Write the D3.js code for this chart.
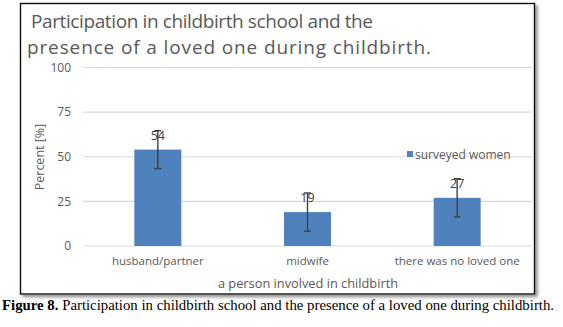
<!DOCTYPE html>
<html>
<head>
<meta charset="utf-8">
<script src="https://cdn.jsdelivr.net/npm/d3@7"></script>
<style>
  body { margin: 0; background: #fff; }
  svg { display: block; }
</style>
</head>
<body>
<svg id="chart" width="563" height="327"></svg>
<script>
// data
var categories = ['husband/partner', 'midwife', 'there was no loved one'];
var values = [54, 19, 27];
var errors = [10.6, 10.7, 10.7];
var yTicks = [0, 25, 50, 75, 100];
var seriesName = 'surveyed women';

var svg = d3.select('#chart');

var defs = svg.append('defs');
var f = defs.append('filter').attr('id', 'shadow')
  .attr('x', '-5%').attr('y', '-5%').attr('width', '115%').attr('height', '115%');
f.append('feDropShadow').attr('dx', 2.5).attr('dy', 2.5)
  .attr('stdDeviation', 1.6).attr('flood-color', '#777').attr('flood-opacity', 0.8);

// frame
svg.append('rect')
  .attr('x', 20.5).attr('y', 3.5).attr('width', 514).attr('height', 290.5)
  .attr('fill', '#fff').attr('stroke', '#111').attr('stroke-width', 1.4)
  .attr('filter', 'url(#shadow)');

var grey = '#595959';

// title (two lines, widths fitted to the original)
var title = svg.append('text')
  .attr('font-family', 'Open Sans').attr('font-size', 19).attr('fill', grey);
title.append('tspan').attr('x', 31).attr('y', 28)
  .attr('textLength', 342).attr('lengthAdjust', 'spacing')
  .text('Participation in childbirth school and the');
title.append('tspan').attr('x', 27).attr('y', 54)
  .attr('textLength', 404).attr('lengthAdjust', 'spacing')
  .text('presence of a loved one during childbirth.');

var x = d3.scaleBand()
  .domain(categories)
  .range([83, 532])
  .paddingInner(0.686)
  .paddingOuter(0.343);

var y = d3.scaleLinear()
  .domain([0, 100])
  .range([246, 67.5]);

// gridlines
svg.append('g')
  .selectAll('line')
  .data(yTicks)
  .enter()
  .append('line')
  .attr('x1', 83).attr('x2', 532)
  .attr('y1', function(d) { return y(d); })
  .attr('y2', function(d) { return y(d); })
  .attr('stroke', '#d9d9d9').attr('stroke-width', 1.2);

// y axis labels
var yAxis = d3.axisLeft(y).tickValues(yTicks).tickSize(0).tickPadding(0);
var gy = svg.append('g').attr('transform', 'translate(71,0)').call(yAxis);
gy.select('.domain').remove();
gy.selectAll('text')
  .attr('font-family', 'Open Sans').attr('font-size', 12).attr('fill', grey);

// x axis labels
var xAxis = d3.axisBottom(x).tickSize(0).tickPadding(0);
var gx = svg.append('g').attr('transform', 'translate(0,257)').call(xAxis);
gx.select('.domain').remove();
gx.selectAll('text')
  .attr('font-family', 'Open Sans').attr('font-size', 11.5).attr('fill', grey);

// bars
svg.append('g')
  .selectAll('rect')
  .data(values)
  .enter()
  .append('rect')
  .attr('x', function(d, i) { return x(categories[i]); })
  .attr('y', function(d) { return y(d); })
  .attr('width', x.bandwidth())
  .attr('height', function(d) { return y(0) - y(d); })
  .attr('fill', '#4f81bd');

// value labels
svg.append('g')
  .selectAll('text')
  .data(values)
  .enter()
  .append('text')
  .attr('x', function(d, i) { return x(categories[i]) + x.bandwidth() / 2; })
  .attr('y', function(d) { return y(d) - 10; })
  .attr('text-anchor', 'middle')
  .attr('font-family', 'Open Sans').attr('font-size', 12.5).attr('fill', '#404040')
  .text(function(d) { return d; });

// error bars
var eg = svg.append('g').attr('stroke', '#404040').attr('stroke-width', 1.4);
values.forEach(function(v, i) {
  var cx = x(categories[i]) + x.bandwidth() / 2;
  var top = y(v + errors[i]), bot = y(v - errors[i]);
  eg.append('line').attr('x1', cx).attr('x2', cx).attr('y1', top).attr('y2', bot);
  eg.append('line').attr('x1', cx - 3.5).attr('x2', cx + 3.5).attr('y1', top).attr('y2', top);
  eg.append('line').attr('x1', cx - 3.5).attr('x2', cx + 3.5).attr('y1', bot).attr('y2', bot);
});

// legend
svg.append('rect')
  .attr('x', 407).attr('y', 151).attr('width', 6).attr('height', 6)
  .attr('fill', '#4f81bd');
svg.append('text')
  .attr('x', 415).attr('y', 159)
  .attr('font-family', 'Open Sans').attr('font-size', 12).attr('fill', grey)
  .text(seriesName);

// axis titles
svg.append('text')
  .attr('transform', 'translate(44,157) rotate(-90)')
  .attr('text-anchor', 'middle')
  .attr('font-family', 'Open Sans').attr('font-size', 12.5).attr('fill', grey)
  .text('Percent [%]');
svg.append('text')
  .attr('x', 308).attr('y', 288)
  .attr('text-anchor', 'middle')
  .attr('font-family', 'Open Sans').attr('font-size', 12.8).attr('fill', grey)
  .text('a person involved in childbirth');

// caption below the frame
var cap = svg.append('text')
  .attr('x', 2).attr('y', 310)
  .attr('font-family', 'Liberation Serif').attr('font-size', 14.8).attr('fill', '#000');
cap.append('tspan').attr('font-weight', 'bold').text('Figure 8.');
cap.append('tspan').text(' Participation in childbirth school and the presence of a loved one during childbirth.');
</script>
</body>
</html>
